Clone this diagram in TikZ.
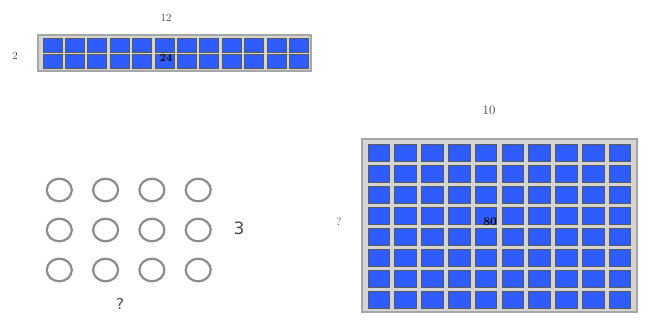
\documentclass[tikz,border=0pt]{standalone}
\usepackage{fontspec}
\newfontfamily\dvs{DejaVu Sans}
\begin{document}
\begin{tikzpicture}[x=1pt,y=-1pt,
  frame/.style={fill=black!17,draw=black!35,line width=1.2pt},
  cell/.style={fill=cellblue,draw=black!65,line width=0.8pt},
  ring/.style={draw=black!45,line width=2.2pt},
  dimlab/.style={text=black!75,font=\fontsize{11}{13}\selectfont},
  prodlab/.style={text=black,font=\bfseries\fontsize{11}{13}\selectfont}]
\definecolor{cellblue}{HTML}{2E5CFF}
\useasboundingbox (0,0) rectangle (653,327);
% top grid 12 x 2
\draw[frame] (38,35) rectangle (311,71);
\foreach \i in {0,...,11}{
  \foreach \j in {0,1}{
    \draw[cell] ({43+22.4*\i},{38+16.5*\j}) rectangle ++(19,14);
  }}
\node[dimlab] (t12) at (166,18) {12};
\node[dimlab] (t2) at (15,56) {2};
\node[prodlab] (t24) at (166,58) {24};
% big grid 10 x 8
\draw[frame] (362,139) rectangle (637,312);
\foreach \i in {0,...,9}{
  \foreach \j in {0,...,7}{
    \draw[cell] ({368+26.8*\i},{144+21*\j}) rectangle ++(21.5,17);
  }}
\node[dimlab,font=\fontsize{13}{15}\selectfont] (b10) at (489,110) {10};
\node[dimlab] (bq) at (339,222) {?};
\node[prodlab,font=\bfseries\fontsize{12}{14}\selectfont] (b80) at (490,222) {80};
% circles 4 x 3
\foreach \i in {0,...,3}{
  \foreach \j in {0,1,2}{
    \draw[ring] ({59.3+46.3*\i},{190+40*\j}) ellipse (12.5 and 11.3);
  }}
\node[text=black!70,font=\dvs\fontsize{17}{19}\selectfont] (c3) at (239,228) {3};
\node[text=black!70,font=\dvs\fontsize{15}{17}\selectfont] (cq) at (120,304) {?};
\end{tikzpicture}
\end{document}
